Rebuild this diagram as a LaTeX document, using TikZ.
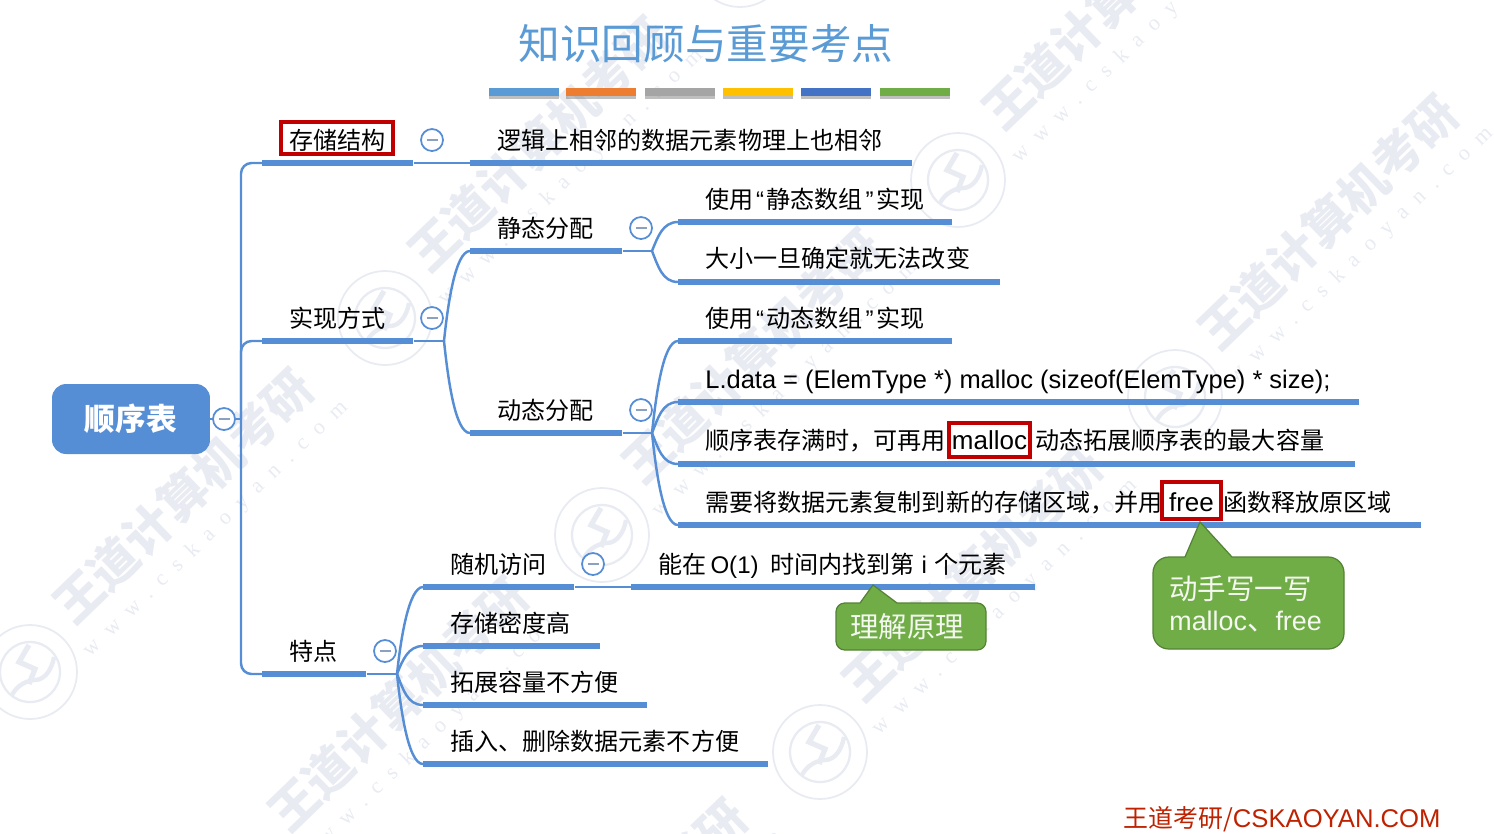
\documentclass[tikz,border=0pt]{standalone}
\usepackage{fontspec}
\setmainfont{Noto Sans CJK SC}
\newfontfamily\latfont{Liberation Sans}
\newfontfamily\wwwfont[LetterSpace=55]{Liberation Serif}
\usetikzlibrary{shadows}
\newcommand{\lat}[1]{{\latfont #1}}
\newcommand{\openq}{\kern1.5pt\lat{“}\kern1.5pt}
\newcommand{\closeq}{\kern1.5pt\lat{”}\kern1.5pt}
\definecolor{mapblue}{HTML}{568ED6}
\definecolor{titleblue}{HTML}{5B9BD5}
\definecolor{boxred}{HTML}{C00000}
\definecolor{tipgreen}{HTML}{70AD47}
\definecolor{tipdark}{HTML}{548235}
\definecolor{markgray}{HTML}{E9EBF3}

\begin{document}
\begin{tikzpicture}[x=0.02cm,y=-0.02cm]
    %
    % `word' is the text above a bar, `bar' the thick line under it.
    % `fold' is the small circle with a minus.
    \tikzstyle{word} = [anchor=west,inner sep=0pt,xshift=-.02cm,text height=12pt,text depth=1.7pt,font=\fontsize{13.7}{16}\selectfont]
    \tikzstyle{bar} = [anchor=west,fill=mapblue,inner sep=0pt,minimum height=.12cm]
    \tikzstyle{link} = [draw=mapblue,line width=1.4pt]
    \tikzstyle{longup} = [out=84,in=180,in looseness=.4]
    \tikzstyle{longdown} = [out=-84,in=180,in looseness=.4]
    \tikzstyle{shortup} = [out=68,in=180]
    \tikzstyle{shortdown} = [out=-68,in=180]
    \tikzstyle{fold} = [draw=mapblue,fill=white,line width=1pt,shape=circle,minimum size=.44cm,inner sep=0pt,path picture={\draw[line width=1pt,color=black!30!mapblue!60] ([xshift=-.11cm]path picture bounding box.center) -- ([xshift=.11cm]path picture bounding box.center);}]
    \tikzstyle{redbox} = [draw=boxred,fill=white,line width=2pt,inner sep=0pt,font=\fontsize{14.8}{16}\latfont]
    \tikzstyle{tipbox} = [draw=tipdark,fill=tipgreen,line width=.7pt]
    \tikzstyle{tipword} = [anchor=west,inner sep=0pt,text=white!92!tipgreen,font=\fontsize{16.2}{18}\selectfont]
    \tikzstyle{strip} = [anchor=north west,inner sep=0pt,minimum width=1.4cm,minimum height=.16cm,drop shadow={shadow xshift=0pt,shadow yshift=-1.6pt,opacity=.5}]
    \tikzstyle{wmark} = [text=markgray,font=\fontsize{27.5}{30}\bfseries,rotate=44,inner sep=0pt]
    \tikzstyle{wurl} = [text=markgray,font=\fontsize{12.5}{14}\wwwfont,rotate=44,inner sep=0pt]
    \tikzstyle{seal} = [draw=markgray,line width=1pt,shape=circle,minimum size=1.88cm,inner sep=0pt]
    \tikzstyle{sealin} = [draw=markgray,line width=1.3pt,shape=circle,minimum size=1.2cm,inner sep=0pt]
    %
    \useasboundingbox (0,0) rectangle (1494,833);
    %
    % Watermark
    \begin{scope}
    \clip (0,0) rectangle (1494,833);
    \foreach \x/\y [count=\i] in {183/496,538/144,752/356,972/574,398/704,1112/2,1328/222,617/926} {
        \node[wmark] (mark\i) at (\x,\y) {王道计算机考研};
        \node[wurl] (url\i) at (\x+33,\y+33) {www.cskaoyan.com};
    }
    \foreach \x/\y [count=\i] in {958/180,385/318,1175/397,602/535,30/672,820/752,740/-40} {
        \node[seal] (seal\i) at (\x,\y) {};
        \node[sealin] (sealin\i) at (\x,\y) {};
        \draw[draw=markgray,line width=3pt] (\x-1,\y-27) -- (\x-11,\y-10) -- (\x+5,\y-3) -- (\x-1,\y+12);
        \draw[draw=markgray,line width=2.5pt] (\x-18,\y+23) .. controls (\x-10,\y+8) and (\x+5,\y+8) .. (\x+5,\y+8) .. controls (\x+15,\y+8) and (\x+22,\y-3) .. (\x+24,\y-15);
    }
    \end{scope}
    %
    % Title
    \node[inner sep=0pt,text=titleblue,font=\fontsize{23.7}{26}\selectfont] (title) at (706,44) {知识回顾与重要考点};
    \foreach \name/\x/\col in {a/489/5B9BD5,b/566/ED7D31,c/645/A5A5A5,d/723/FFC000,e/801/4472C4,f/880/70AD47} {
        \definecolor{stripcol}{HTML}{\col}
        \node[strip,fill=stripcol] (strip\name) at (\x,88) {};
    }
    %
    % Root
    \node[fill=mapblue,rounded corners=8pt,minimum width=3.16cm,minimum height=1.4cm,inner sep=0pt,text=white,font=\fontsize{17.5}{20}\bfseries] (root) at (131,419) {顺序表};
    \coordinate (trunk) at (241,419);
    %
    % Level 1
    \node[bar,minimum width=3.02cm] (cunchubar) at (262,163) {};
    \node[bar,minimum width=3.02cm] (shixianbar) at (262,341) {};
    \node[bar,minimum width=2.08cm] (tedianbar) at (262,674) {};
    \node[redbox,minimum width=2.24cm,minimum height=.64cm] (cunchured) at (337,138) {};
    \node[word] (cunchu) at (290,140) {存储结构};
    \node[word] (shixian) at (290,318) {实现方式};
    \node[word] (tedian) at (290,651) {特点};
    \draw[link] (root.east) -- (trunk);
    \draw[link,rounded corners=6pt] (cunchubar.west) -| (trunk) |- (tedianbar.west);
    \draw[link,rounded corners=6pt] (shixianbar.west) -| (trunk);
    %
    % Storage
    \node[bar,minimum width=8.84cm] (luojibar) at (470,163) {};
    \node[word] (luoji) at (498,140) {逻辑上相邻的数据元素物理上也相邻};
    \draw[link] (cunchubar.east) -- (luojibar.west);
    %
    % Static and dynamic
    \coordinate (joinshixian) at (444,341);
    \node[bar,minimum width=3.04cm] (jingtaibar) at (470,251) {};
    \node[bar,minimum width=3.04cm] (dongtaibar) at (470,433) {};
    \node[word] (jingtai) at (498,228) {静态分配};
    \node[word] (dongtai) at (498,410) {动态分配};
    \draw[link] (shixianbar.east) -- (joinshixian);
    \draw[link] (joinshixian) to[longup] (jingtaibar.west);
    \draw[link] (joinshixian) to[longdown] (dongtaibar.west);
    %
    % Static children
    \coordinate (joinjingtai) at (652,251);
    \node[bar,minimum width=5.48cm] (jabar) at (678,222) {};
    \node[bar,minimum width=6.44cm] (jbbar) at (678,282) {};
    \node[word] (ja) at (706,199) {使用\openq 静态数组\closeq 实现};
    \node[word] (jb) at (706,258) {大小一旦确定就无法改变};
    \draw[link] (jingtaibar.east) -- (joinjingtai);
    \draw[link] (joinjingtai) to[shortup] (jabar.west);
    \draw[link] (joinjingtai) to[shortdown] (jbbar.west);
    %
    % Dynamic children
    \coordinate (joindongtai) at (652,433);
    \node[bar,minimum width=5.48cm] (dabar) at (678,341) {};
    \node[bar,minimum width=13.62cm] (dbbar) at (678,402) {};
    \node[bar,minimum width=13.54cm] (dcbar) at (678,464) {};
    \node[bar,minimum width=14.86cm] (ddbar) at (678,525) {};
    \node[word] (da) at (706,318) {使用\openq 动态数组\closeq 实现};
    \node[word,font=\fontsize{14.5}{16}\latfont] (db) at (706,379) {L.data = (ElemType *) malloc (sizeof(ElemType) * size);};
    \node[word] (dc) at (706,440) {顺序表存满时，可再用};
    \node[redbox,minimum width=1.62cm,minimum height=.68cm] (mallocbox) at (989.5,440) {malloc};
    \node[word] (dcc) at (1036,440) {动态拓展顺序表的最大容量};
    \node[word] (dd) at (706,502) {需要将数据元素复制到新的存储区域，并用};
    \node[redbox,minimum width=1.18cm,minimum height=.74cm,text height=12.5pt,text depth=0pt] (freebox) at (1191.5,500.5) {free};
    \node[word] (ddd) at (1224,502) {函数释放原区域};
    \draw[link] (dongtaibar.east) -- (joindongtai);
    \draw[link] (joindongtai) to[longup] (dabar.west);
    \draw[link] (joindongtai) to[shortup] (dbbar.west);
    \draw[link] (joindongtai) to[shortdown] (dcbar.west);
    \draw[link] (joindongtai) to[longdown] (ddbar.west);
    %
    % Features
    \coordinate (jointedian) at (397,674);
    \node[bar,minimum width=3.02cm] (tabar) at (423,587) {};
    \node[bar,minimum width=3.54cm] (tbbar) at (423,646) {};
    \node[bar,minimum width=4.48cm] (tcbar) at (423,705) {};
    \node[bar,minimum width=6.9cm] (tdbar) at (423,764) {};
    \node[word] (ta) at (451,564) {随机访问};
    \node[word] (tb) at (451,623) {存储密度高};
    \node[word] (tc) at (451,682) {拓展容量不方便};
    \node[word] (td) at (451,741) {插入、删除数据元素不方便};
    \draw[link] (tedianbar.east) -- (jointedian);
    \draw[link] (jointedian) to[longup] (tabar.west);
    \draw[link] (jointedian) to[shortup] (tbbar.west);
    \draw[link] (jointedian) to[shortdown] (tcbar.west);
    \draw[link] (jointedian) to[longdown] (tdbar.west);
    %
    % Random access
    \node[bar,minimum width=8.08cm] (suijibar) at (631,587) {};
    \node[word] (suiji) at (659,564) {能在\lat{\,O(1)}\hspace{6.5pt}时间内找到第\hspace{4pt}\lat{i}\hspace{4.5pt}个元素};
    \draw[link] (tabar.east) -- (suijibar.west);
    %
    % Collapse marks
    \node[fold] (foldroot) at (224,419) {};
    \node[fold] (foldcunchu) at (432,140) {};
    \node[fold] (foldshixian) at (432,318) {};
    \node[fold] (foldtedian) at (385,651) {};
    \node[fold] (foldjingtai) at (641,228) {};
    \node[fold] (folddongtai) at (641,410) {};
    \node[fold] (foldsuiji) at (593,564) {};
    %
    % Green tips
    \draw[tipbox] (873,585) -- (897,603) [rounded corners=5pt] -- (986,603) -- (986,650) -- (836,650) -- (836,603) [sharp corners] -- (860,603) -- cycle;
    \node[tipword] (tipa) at (850,627) {理解原理};
    \draw[tipbox] (1200,522) -- (1232,557) [rounded corners=9pt] -- (1344,557) -- (1344,649) -- (1153,649) -- (1153,557) [sharp corners] -- (1185,557) -- cycle;
    \node[tipword] (tipb) at (1169,589) {动手写一写};
    \node[tipword] (tipc) at (1169,622) {{\fontsize{15.3}{18}\latfont malloc}、{\fontsize{15.3}{18}\latfont free}};
    %
    % Footer
    \node[anchor=west,inner sep=0pt,text=boxred!70!orange!90!black,font=\fontsize{14.2}{16}\selectfont] (footer) at (1123,819) {王道考研/{\fontsize{14.6}{16}\latfont CSKAOYAN.COM}};
    %
\end{tikzpicture}
\end{document}
